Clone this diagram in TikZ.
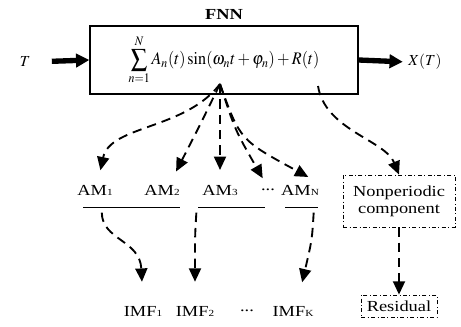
\documentclass[tikz,border=0pt]{standalone}
\usepackage{mathptmx}
\usepackage{fontspec}
\setmainfont{Liberation Serif}[FakeStretch=1.2]
\usepackage{tikz}
\usetikzlibrary{arrows.meta, positioning}

\newcommand{\smallidx}[1]{{\fontsize{7}{8}\selectfont #1}}

\tikzstyle{fnnbox} = [rectangle, draw, line width=1pt, minimum width=201pt, minimum height=51pt,
  font=\fontsize{11.5}{13}\selectfont]
\tikzstyle{lbl} = [inner sep=1pt, font=\fontsize{11.5}{13}\selectfont]
\tikzstyle{dotbox} = [rectangle, draw, dash dot, line width=0.6pt, align=center,
  inner sep=2pt, font=\fontsize{11.5}{13}\selectfont]
\tikzstyle{bigarrow} = [line width=4pt, -{Triangle[length=10pt,width=10pt]}]
\tikzstyle{darrow} = [line width=1.4pt, dash pattern=on 7pt off 4.5pt,
  -{Triangle[length=10pt,width=9pt]}]

\begin{document}
\begin{tikzpicture}[x=0.75pt, y=-0.75pt]
  \useasboundingbox (0,0) rectangle (461,326);

  % FNN block
  \node (fnn) [fnnbox] at (224,60)
    {\scalebox{1.05}[1.15]{$\displaystyle\sum_{n=1}^{N} A_n(t)\sin(\omega_n t+\varphi_n)+R(t)$}};
  \node (fnnlbl) [lbl, above=3pt of fnn] {\textbf{FNN}};
  \node (tin) [lbl] at (25,62) {$T$};
  \node (xout) [lbl] at (425,62) {$X(T)$};
  \coordinate (src) at (220,84);
  \coordinate (rsrc) at (318,86);

  % AM row
  \node (am1) [lbl] at (95,190) {AM\smallidx{1}};
  \node (am2) [lbl] at (162,190) {AM\smallidx{2}};
  \node (am3) [lbl] at (220,190) {AM\smallidx{3}};
  \node (amdots) [lbl] at (268,190) {...};
  \node (amn) [lbl] at (300,190) {AM\smallidx{N}};
  \draw[line width=0.6pt] (83,207) -- (180,207);
  \draw[line width=0.6pt] (198,207) -- (265,207);
  \draw[line width=0.6pt] (285,207) -- (318,207);

  % IMF row
  \node (imf1) [lbl] at (143,311) {IMF\smallidx{1}};
  \node (imf2) [lbl] at (195,311) {IMF\smallidx{2}};
  \node (imfdots) [lbl] at (247,311) {...};
  \node (imfk) [lbl] at (293,311) {IMF\smallidx{K}};

  % Residual branch
  \node (nonper) [dotbox, minimum width=84pt, minimum height=39pt] at (399,201)
    {Nonperiodic\\component};
  \node (resid) [dotbox, minimum width=57pt, minimum height=16.5pt] at (399,306) {Residual};

  % Arrows
  \draw[bigarrow, shorten <=15pt] (tin.east) -- (fnn.west);
  \draw[bigarrow, shorten >=3pt] (fnn.east) -- (xout.west);
  \draw[darrow, shorten >=10pt] (src) .. controls (185,130) and (110,125) .. ([xshift=2pt]am1.north);
  \draw[darrow, shorten >=10pt] (src) .. controls (200,125) .. ([xshift=6pt]am2.north);
  \draw[darrow, shorten >=10pt] (src) -- (am3.north);
  \draw[darrow, shorten >=8pt] (src) .. controls (235,130) .. ([xshift=0pt]amdots.north);
  \draw[darrow, shorten >=10pt] (src) .. controls (240,140) .. ([xshift=15pt]amn.north);
  \draw[darrow] (rsrc) .. controls (325,130) and (385,140) .. (nonper.north);
  \draw[darrow, shorten <=12pt, shorten >=17pt] ([xshift=5pt]am1.south)
    .. controls (102,240) and (140,240) .. (imf1.north);
  \draw[darrow, shorten <=12pt, shorten >=17pt] ([xshift=-17pt]am3.south)
    .. controls (195,235) .. (imf2.north);
  \draw[darrow, shorten <=12pt, shorten >=17pt] ([xshift=11pt]amn.south)
    .. controls (312,240) .. ([xshift=3pt]imfk.north);
  \draw[darrow] (nonper) -- (resid);
\end{tikzpicture}
\end{document}
